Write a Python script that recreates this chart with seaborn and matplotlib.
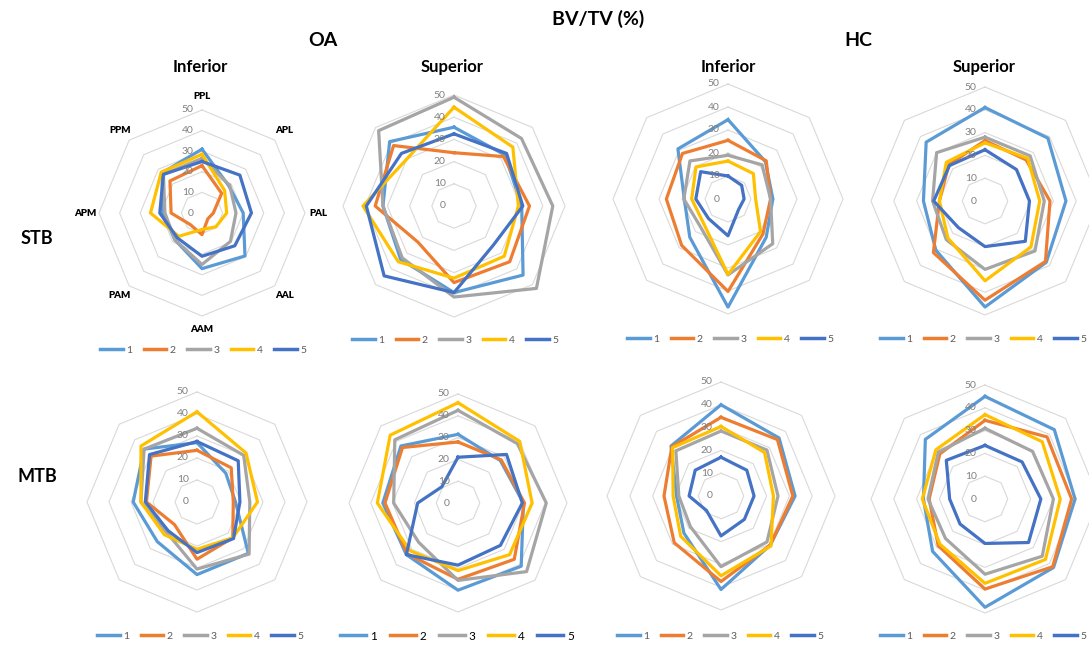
import numpy as np
import pandas as pd
import matplotlib
matplotlib.use("Agg")
import matplotlib.pyplot as plt
import matplotlib.transforms as mtransforms
import seaborn as sns

# Axis categories, clockwise from the top
categories = ["PPL", "APL", "PAL", "AAL", "AAM", "PAM", "APM", "PPM"]
series_names = ["1", "2", "3", "4", "5"]
colors = ["#5B9BD5", "#ED7D31", "#A5A5A5", "#FFC000", "#4472C4"]
r_ticks = [0, 10, 20, 30, 40, 50]

# BV/TV (%) per region, one row per series 1..5
stb_oa_inferior = [
    [31, 18.5, 20, 29.5, 27, 18.5, 19, 27.5],
    [23, 13.5, 5.5, 4, 10.5, 8, 15, 22],
    [26.5, 19, 16.5, 19.5, 25, 18.5, 18, 26.5],
    [28.5, 15.5, 12, 9.5, 8, 16, 25, 28],
    [25, 26, 24, 22.5, 21, 17, 20.5, 26.5],
]
stb_oa_superior = [
    [35.5, 32.5, 30.5, 44, 39, 34, 32, 41],
    [24, 31.5, 34, 35.5, 34.5, 23, 35.5, 38.5],
    [49, 43, 44.5, 52.5, 41, 33, 32, 48],
    [44.5, 37.5, 29, 32, 32.5, 35.5, 41, 30],
    [32.5, 33.5, 31, 25, 39, 44.5, 39.5, 33.5],
]
stb_hc_inferior = [
    [34.5, 23, 19.5, 23.5, 47, 23.5, 19, 30.8],
    [25.5, 23.5, 18.5, 21.5, 40.2, 28.5, 26.8, 28],
    [19, 21, 18.5, 27.5, 33, 17, 19.2, 23.4],
    [16.5, 15.6, 12, 20, 32.8, 15, 15.8, 19.7],
    [10, 8.4, 7, 6.5, 16, 12, 14, 16.8],
]
stb_hc_superior = [
    [41, 39, 35.5, 38, 46.5, 30.5, 27, 36.5],
    [26.5, 25.5, 28.5, 37.5, 43.5, 32, 20, 22.5],
    [28, 28, 26, 31, 30, 24, 23, 30],
    [25.5, 26.5, 24, 28.5, 35, 23, 20, 24],
    [22.5, 19.5, 19.5, 25, 20, 16.5, 22.5, 22],
]
mtb_oa_inferior = [
    [27, 18.5, 17.5, 33, 33, 25.5, 29, 34],
    [23.5, 22, 16.5, 23, 26, 14.5, 23, 29.5],
    [33.5, 30, 24, 33.5, 30.5, 19.5, 25.5, 34],
    [41, 31.5, 27.5, 23, 21.5, 21, 25.5, 36],
    [27.5, 26.5, 19.5, 23.5, 23, 18.5, 23.5, 30.5],
]
mtb_oa_superior = [
    [31.5, 27.5, 30, 41, 40, 33.5, 34.5, 37],
    [28, 28, 30.5, 36.5, 35, 33, 33.5, 36],
    [42.5, 38.5, 40.5, 44.5, 35.5, 25.5, 29.5, 41],
    [46, 40, 34, 33.5, 31, 31, 37, 44],
    [21, 31.5, 29.5, 27.5, 28.5, 33.5, 18.5, 10.5],
]
mtb_hc_inferior = [
    [40, 36, 32.5, 30.5, 41, 23, 19.5, 31],
    [34.5, 35, 31.5, 30.5, 37.5, 29, 25, 30.5],
    [28.5, 28.5, 25, 28.5, 31, 19, 18.5, 28],
    [30.5, 27, 23, 31, 35, 25, 21, 30],
    [17, 16, 14.5, 14.5, 17.5, 9, 14, 16],
]
mtb_hc_superior = [
    [45, 43, 39.5, 42.5, 47.5, 32.5, 27, 37],
    [34.5, 38.5, 38, 42, 39.5, 29, 24.5, 28],
    [31, 29.5, 30, 35.5, 33, 24.5, 25, 29],
    [37, 35.5, 33, 37.5, 37, 28, 27.5, 30.5],
    [23.5, 23, 24.5, 27, 19.5, 15.5, 15.5, 24],
]

W, H = 1089, 646
plt.rcParams["font.family"] = ["Lato", "DejaVu Sans"]
fig = plt.figure(figsize=(W / 100, H / 100), dpi=100)
fig.patch.set_facecolor("white")

# panel: data, centre x, centre y, radius of the 50 ring (px), legend centre (px)
panels = [
    (stb_oa_inferior, 202, 213, 103, (203, 350), True),
    (stb_oa_superior, 454, 206, 111, (455, 340), False),
    (stb_hc_inferior, 728, 199, 115, (730, 339), False),
    (stb_hc_superior, 985, 201, 114, (983, 339), False),
    (mtb_oa_inferior, 197, 502, 110, (200, 636), False),
    (mtb_oa_superior, 458, 503, 109, (457, 636), False),
    (mtb_hc_inferior, 721, 496, 114, (720, 636), False),
    (mtb_hc_superior, 985, 499, 114, (983, 636), False),
]

n = len(categories)
theta = np.arange(n) * 2 * np.pi / n
theta_closed = np.append(theta, 2 * np.pi)

for idx, (data, cx, cy, R, (lx, ly), show_cats) in enumerate(panels):
    ax = fig.add_axes([(cx - R) / W, (H - cy - R) / H, 2 * R / W, 2 * R / H],
                      projection="polar")
    ax.set_theta_offset(np.pi / 2)
    ax.set_theta_direction(-1)
    ax.patch.set_alpha(0)
    ax.spines["polar"].set_visible(False)
    ax.grid(False)

    # octagonal rings
    for r in r_ticks[1:]:
        ax.plot(theta_closed, [r] * (n + 1), color="#D9D9D9", lw=0.8, zorder=0)

    rows = []
    for name, vals in zip(series_names, data):
        closed = list(vals) + [vals[0]]
        for t, v in zip(theta_closed, closed):
            rows.append({"theta": t, "value": v, "series": name})
    df = pd.DataFrame(rows)

    sns.lineplot(data=df, x="theta", y="value", hue="series",
                 hue_order=series_names, palette=colors, estimator=None,
                 linewidth=2.3, ax=ax, legend=True)
    for ln in ax.lines:
        ln.set_clip_on(False)

    ax.set_ylim(0, 50)
    ax.set_xticks([])
    ax.set_yticks([])
    ax.set_xlabel("")
    ax.set_ylabel("")

    # radial value labels, left of the top axis
    off = mtransforms.ScaledTranslation(-6 / 72, 0, fig.dpi_scale_trans)
    for r in r_ticks:
        ax.text(0, r, str(r), transform=ax.transData + off, ha="right",
                va="center", fontsize=7.5, color="#808080", clip_on=False)

    if show_cats:
        for t, c in zip(theta, categories):
            ax.text(t, 56.5, c, ha="center", va="center", fontsize=7,
                    fontweight="heavy", color="#000000", clip_on=False)

    dark_legend = idx == 5
    sns.move_legend(ax, "center", bbox_to_anchor=(lx / W, 1 - ly / H),
                    bbox_transform=fig.transFigure, ncol=5, frameon=False,
                    title=None, fontsize=8.5 if dark_legend else 7.5,
                    handlelength=2.2, handletextpad=0.3, columnspacing=1.1,
                    borderpad=0.2)
    leg = ax.get_legend()
    for h in leg.legend_handles:
        h.set_linewidth(2.5)
    for t in leg.get_texts():
        t.set_color("#000000" if dark_legend else "#595959")


def ftext(x, y, s, size, **kw):
    fig.text(x / W, 1 - y / H, s, ha="center", va="center", fontsize=size,
             fontweight="bold", color="#000000", **kw)


ftext(598, 19, "BV/TV (%)", 14)
ftext(323, 41, "OA", 14)
ftext(858, 41, "HC", 14)
ftext(200, 67, "Inferior", 12)
ftext(452, 67, "Superior", 12)
ftext(728, 67, "Inferior", 12)
ftext(984, 67, "Superior", 12)
ftext(37, 238, "STB", 13)
ftext(37, 476, "MTB", 13)

fig.savefig("out.png", dpi=100, facecolor="white")
